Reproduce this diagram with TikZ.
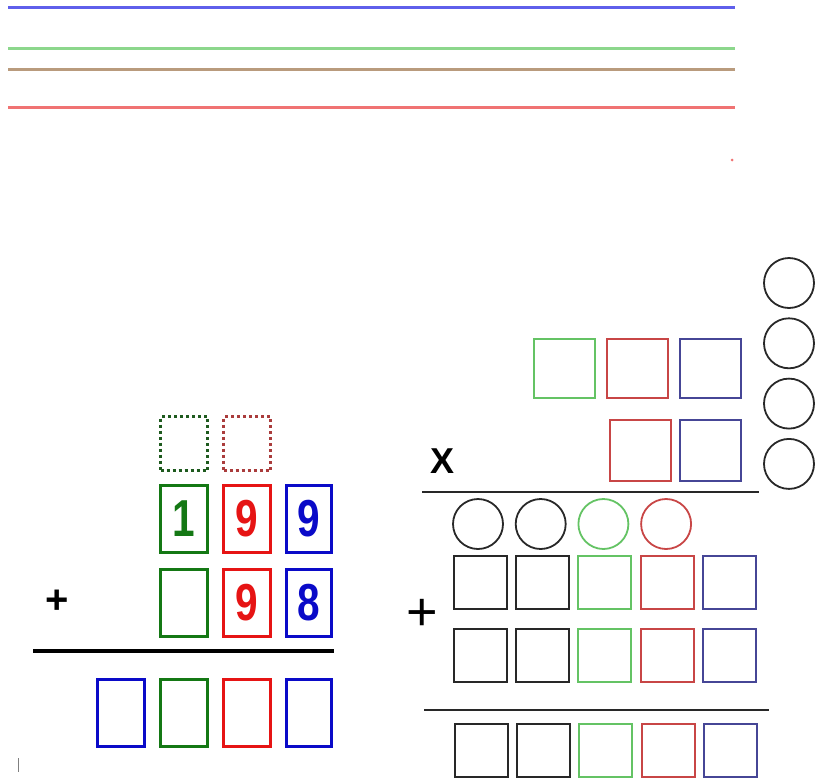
\documentclass[tikz,border=0pt]{standalone}
\usepackage{fontspec}
\setmainfont{Liberation Sans}
\usepackage{graphicx}
\usetikzlibrary{positioning}
\definecolor{lineblue}{RGB}{95,95,235}
\definecolor{linegreen}{RGB}{140,215,140}
\definecolor{linebrown}{RGB}{185,155,125}
\definecolor{linered}{RGB}{240,115,115}
\definecolor{dgreen}{RGB}{20,120,20}
\definecolor{dred}{RGB}{230,20,20}
\definecolor{dblue}{RGB}{10,10,200}
\definecolor{dotgreen}{RGB}{30,90,30}
\definecolor{dotred}{RGB}{170,60,60}
\definecolor{lgreen}{RGB}{100,195,100}
\definecolor{lred}{RGB}{200,70,70}
\definecolor{lblue}{RGB}{70,70,150}
\definecolor{dark}{RGB}{40,40,40}
\newcommand{\dig}[1]{\scalebox{0.78}[1]{#1}}
\begin{document}
\begin{tikzpicture}[x=1pt, y=-1pt]
    \tikzset{
        box/.style={rectangle, draw, line width=3pt, minimum width=47pt, minimum height=67pt, inner sep=0pt, font=\fontsize{52}{52}\selectfont\bfseries},
        dotbox/.style={box, line width=3pt, dash pattern=on 3pt off 3pt, minimum height=54pt},
        cell/.style={rectangle, draw, line width=2pt, minimum width=53pt, minimum height=53pt, inner sep=0pt},
        bigcell/.style={cell, minimum width=61pt, minimum height=59pt},
        ring/.style={circle, draw=dark, line width=1.8pt, minimum size=50pt, inner sep=0pt},
        sign/.style={inner sep=0pt, font=\fontsize{36}{36}\selectfont}
    }
    \useasboundingbox (0,0) rectangle (817,782);
    % colour rules at the top
    \draw[lineblue, line width=3pt] (8,7) -- (735,7);
    \draw[linegreen, line width=3pt] (8,48) -- (735,48);
    \draw[linebrown, line width=3pt] (8,69) -- (735,69);
    \draw[linered, line width=3pt] (8,107) -- (735,107);
    \fill[linered] (732,160) circle (1.5pt);
    % addition
    \node[box, draw=dgreen, text=dgreen] (t1) at (184,519) {\dig{1}};
    \node[box, draw=dred, text=dred, right=13pt of t1] (t2) {\dig{9}};
    \node[box, draw=dblue, text=dblue, minimum width=45pt, right=13pt of t2] (t3) {\dig{9}};
    \node[dotbox, draw=dotgreen, above=12pt of t1] (d1) {};
    \node[dotbox, draw=dotred, above=12pt of t2] (d2) {};
    \node[box, draw=dgreen, below=14pt of t1] (m1) {};
    \node[box, draw=dred, text=dred, below=14pt of t2] (m2) {\dig{9}};
    \node[box, draw=dblue, text=dblue, minimum width=45pt, below=14pt of t3] (m3) {\dig{8}};
    \node[sign, font=\fontsize{40}{40}\selectfont\bfseries] (plusA) at (57,602) {+};
    \draw[line width=4.5pt] (33,651) -- (334,651);
    \node[box, draw=dgreen, below=40pt of m1] (s2) {};
    \node[box, draw=dblue, left=13pt of s2] (s1) {};
    \node[box, draw=dred, below=40pt of m2] (s3) {};
    \node[box, draw=dblue, minimum width=45pt, below=40pt of m3] (s4) {};
    \draw[gray, line width=1pt] (18,758) -- (18,772);
    % multiplication
    \node[bigcell, draw=lgreen] (a1) at (564,368) {};
    \node[bigcell, draw=lred, right=10pt of a1] (a2) {};
    \node[bigcell, draw=lblue, right=10pt of a2] (a3) {};
    \node[bigcell, draw=lblue, minimum height=61pt] (b2) at (710,450) {};
    \node[bigcell, draw=lred, minimum height=61pt, left=7pt of b2] (b1) {};
    \foreach \i in {0,...,3}
        \node[ring] (c\i) at (789,283+60.3*\i) {};
    \node[sign, font=\fontsize{36}{36}\selectfont\bfseries] (times) at (443,461) {X};
    \draw[dark, line width=2pt] (422,492) -- (759,492);
    \foreach \c [count=\i from 0] in {dark,dark,lgreen,lred}
        \node[ring, draw=\c] (k\i) at (478+62.7*\i,524) {};
    \foreach \c [count=\i from 0] in {dark,dark,lgreen,lred,lblue} {
        \node[cell, draw=\c] (p\i) at (480.5+62.2*\i,582.5) {};
        \node[cell, draw=\c] (q\i) at (480.5+62.2*\i,655.5) {};
        \node[cell, draw=\c] (r\i) at (481+62.4*\i,750.5) {};
    }
    \node[sign, font=\fontsize{54}{54}\selectfont] (plusB) at (422,615) {+};
    \draw[dark, line width=2pt] (424,710) -- (769,710);
\end{tikzpicture}
\end{document}
